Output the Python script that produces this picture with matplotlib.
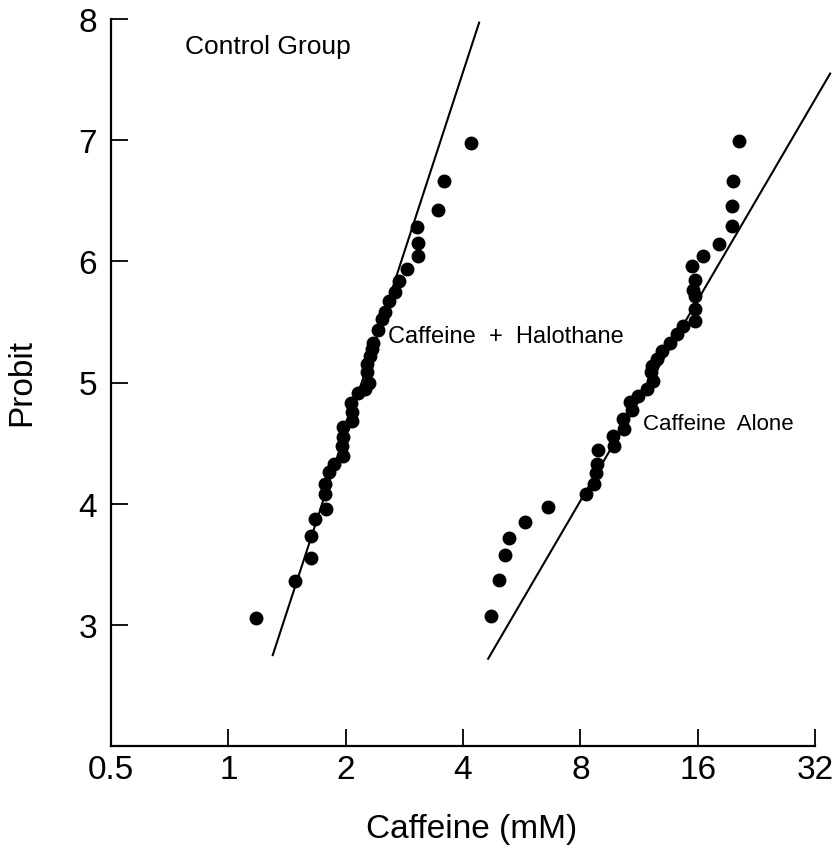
import matplotlib
matplotlib.use("Agg")
import matplotlib.pyplot as plt
from matplotlib.ticker import FixedLocator, FixedFormatter, NullLocator

plt.rcParams['font.family'] = ['Liberation Sans', 'DejaVu Sans']

# Caffeine + Halothane (mM, probit)
halo_x = [1.18, 1.48, 1.63, 1.63, 1.67, 1.78, 1.77, 1.77, 1.81, 1.87, 1.97, 1.96,
          1.97, 1.97, 2.08, 2.08, 2.07, 2.15, 2.24, 2.30, 2.27, 2.27, 2.31, 2.34,
          2.35, 2.42, 2.48, 2.52, 2.58, 2.68, 2.74, 2.87, 3.07, 3.07, 3.05, 3.45,
          3.58, 4.20]
halo_y = [3.06, 3.36, 3.55, 3.73, 3.87, 3.96, 4.08, 4.16, 4.26, 4.33, 4.39, 4.48,
          4.55, 4.63, 4.68, 4.76, 4.83, 4.91, 4.95, 5.00, 5.09, 5.15, 5.22, 5.28,
          5.33, 5.43, 5.52, 5.58, 5.67, 5.75, 5.84, 5.94, 6.04, 6.15, 6.28, 6.42,
          6.66, 6.98]

# Caffeine alone (mM, probit)
alone_x = [4.72, 4.95, 5.13, 5.25, 5.77, 6.61, 8.28, 8.68, 8.78, 8.83, 8.89, 9.77,
           9.71, 10.36, 10.30, 10.87, 10.74, 11.26, 11.87, 12.30, 12.16, 12.23, 12.60,
           12.97, 13.60, 14.18, 14.69, 15.77, 15.77, 15.77, 15.58, 15.77, 15.49, 16.53,
           18.17, 19.62, 19.62, 19.74, 20.45]
alone_y = [3.07, 3.37, 3.58, 3.72, 3.85, 3.97, 4.08, 4.16, 4.25, 4.33, 4.44, 4.48,
           4.56, 4.62, 4.70, 4.77, 4.84, 4.89, 4.95, 5.01, 5.09, 5.14, 5.19,
           5.26, 5.33, 5.40, 5.47, 5.51, 5.61, 5.71, 5.76, 5.85, 5.96, 6.04,
           6.14, 6.29, 6.46, 6.66, 6.99]

# fitted lines
halo_line_x = [1.30, 4.40]
halo_line_y = [2.75, 7.97]
alone_line_x = [4.64, 35.0]
alone_line_y = [2.72, 7.55]

xticks = [0.5, 1, 2, 4, 8, 16, 32]
xticklabels = ['0.5', '1', '2', '4', '8', '16', '32']
yticks = [3, 4, 5, 6, 7, 8]

fig = plt.figure(figsize=(8.35, 8.53), dpi=100)
ax = fig.add_axes([111/835, 1 - 747/853, (815-111)/835, (747-20)/853])

ax.set_xscale('log', base=2)
ax.set_xlim(0.5, 32)
ax.set_ylim(2, 8)

ax.plot(halo_line_x, halo_line_y, color='black', lw=1.5, clip_on=False)
ax.plot(alone_line_x, alone_line_y, color='black', lw=1.5, clip_on=False)
ax.plot(halo_x, halo_y, 'o', color='black', ms=9, clip_on=False)
ax.plot(alone_x, alone_y, 'o', color='black', ms=9, clip_on=False)

ax.spines['top'].set_visible(False)
ax.spines['right'].set_visible(False)
ax.spines['left'].set_linewidth(1.6)
ax.spines['bottom'].set_linewidth(1.6)

ax.xaxis.set_major_locator(FixedLocator(xticks))
ax.xaxis.set_major_formatter(FixedFormatter(xticklabels))
ax.xaxis.set_minor_locator(NullLocator())
ax.set_yticks(yticks)
ax.set_yticklabels([str(t) for t in yticks])
ax.tick_params(axis='both', direction='in', length=12, width=1.3, labelsize=24, pad=6)
ax.tick_params(axis='y', pad=10)

fig.text(472/835, 1 - 830/853, 'Caffeine (mM)', fontsize=24, ha='center', va='center')
fig.text(22/835, 1 - 383/853, 'Probit', fontsize=24, ha='center', va='center', rotation=90)

ax.text(0.774, 7.78, 'Control Group', fontsize=19, va='center', ha='left')
ax.text(2.57, 5.38, 'Caffeine  +  Halothane', fontsize=17, va='center', ha='left')
ax.text(11.6, 4.66, 'Caffeine  Alone', fontsize=16, va='center', ha='left')

fig.savefig('out.png', dpi=100)
